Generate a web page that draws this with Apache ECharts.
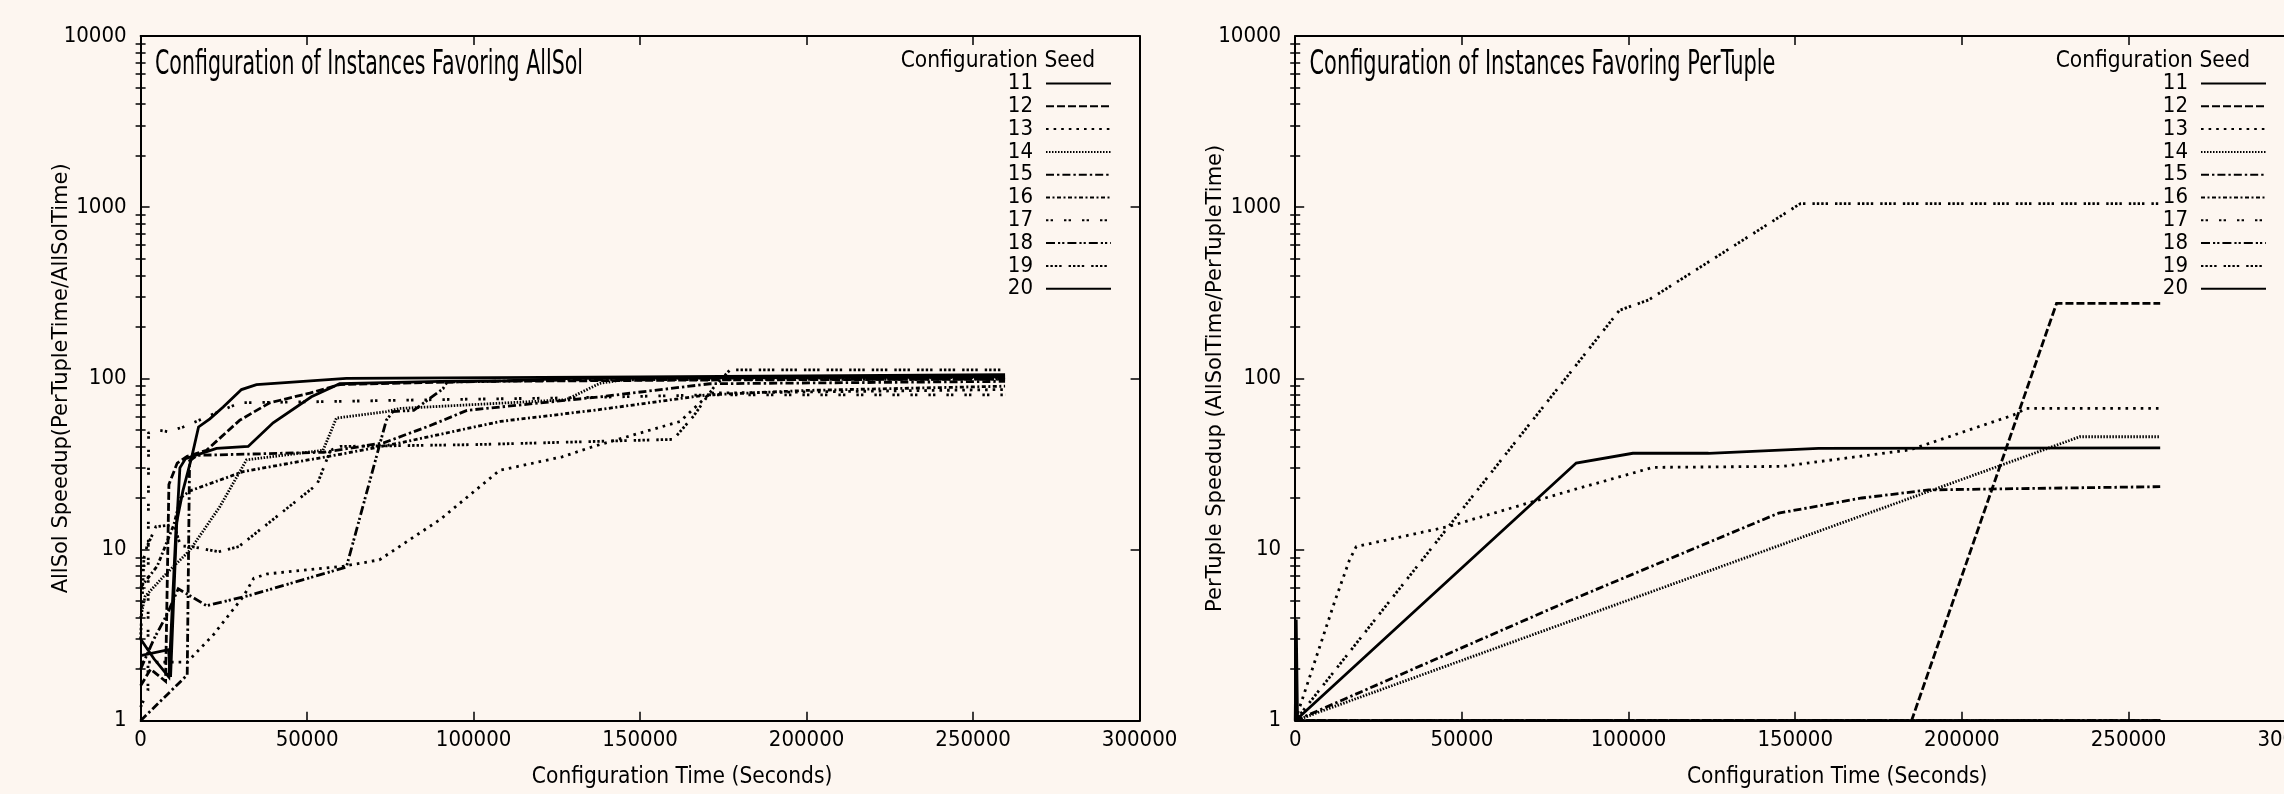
<!DOCTYPE html>
<html>
<head>
<meta charset="utf-8">
<script src="https://cdn.jsdelivr.net/npm/echarts@6/dist/echarts.min.js"></script>
<style>
html, body { margin: 0; padding: 0; background: #fdf6f0; }
#main { width: 2284px; height: 794px; }
</style>
</head>
<body>
<div id="main"></div>
<script>
// seeds shown in both legends
var seeds = ['11', '12', '13', '14', '15', '16', '17', '18', '19', '20'];
var xTicks = [0, 300000, 50000];   // min, max, step

// left panel: AllSol speedup, [configuration seconds, speedup]
var allSol11 = [[0,3],[4000,2.3],[8500,1.8],[10700,14],[12700,22],[15400,35],[17400,52],[20800,58],[24800,68],[30300,86],[34800,92],[61800,100],[150000,102],[259600,105]];
var allSol12 = [[0,1.6],[3000,2],[7500,1.7],[8500,24],[11000,32],[14000,35],[19800,38],[29800,57],[38800,72],[50800,82],[59800,92],[100000,96],[180000,98],[259600,99]];
var allSol13 = [[0,2.2],[14000,2.2],[22000,3.2],[30800,5.3],[34000,6.8],[38000,7.2],[61000,8],[71700,8.7],[90000,15],[107800,29],[126600,34.8],[136000,40],[162000,56],[168000,72],[171000,82],[259600,86]];
var allSol14 = [[0,4],[1300,5.3],[7000,7],[14800,9.9],[23800,17.8],[31800,33.4],[54800,38],[58800,58.6],[73800,63.9],[77800,66.7],[127800,75],[137900,93.5],[147900,100],[259600,101]];
var allSol15 = [[0,1],[10700,1.6],[14000,1.85],[14700,33],[17000,35.5],[55000,37],[73000,42],[87000,53],[98000,65],[138000,78],[171000,93],[259600,96]];
var allSol16 = [[0,6],[5000,8],[10000,14],[12000,20],[14800,22],[30800,28.5],[45000,32],[60000,36],[78000,42],[108000,56],[136000,65],[170000,80],[200000,85],[259600,90]];
var allSol17 = [[0,1.2],[2200,1.5],[2400,48],[5000,50],[8300,48.8],[12800,52],[29800,72],[52800,73],[86800,75],[130000,77],[170000,80],[259600,80]];
var allSol18 = [[0,2],[4000,3],[8000,4.2],[11300,5.9],[19800,4.7],[32800,5.4],[61800,7.9],[73800,57],[75800,64],[82000,65],[90800,87],[92000,95],[130000,98],[259600,99]];
var allSol19 = [[0,3],[1000,9],[1900,10.4],[4600,13.6],[10000,14],[12000,10.5],[15400,10.4],[23400,9.7],[29500,10.4],[53000,24],[57000,38],[60000,40],[100000,41],[160000,44],[166000,60],[172000,88],[177000,112],[259600,112]];
var allSol20 = [[0,2.4],[8400,2.6],[9000,1.8],[10800,13.6],[11800,30],[13500,34],[22800,39],[32300,40],[39800,55],[51300,78],[59800,93],[90000,96],[110000,97],[130000,100],[259600,102]];

// right panel: PerTuple speedup
var perTuple11 = [[0,1],[84300,32],[101300,36.5],[124000,36.5],[157000,39],[259500,39.3]];
var perTuple12 = [[0,1],[184900,1],[228400,274],[259500,274]];
var perTuple13 = [[0,1],[11900,5],[16300,8.7],[18300,10.4],[45800,13.6],[83300,22.3],[107400,30.2],[146200,30.6],[171600,35.5],[184400,38.2],[215400,61],[219400,66.7],[259500,66.7]];
var perTuple14 = [[0,1],[235400,45.6],[259500,45.6]];
var perTuple15 = [[0,1],[82000,5],[145000,16.3],[170000,20],[190000,22.3],[259500,23.3]];
var perTuple16 = [[0,1],[259500,1]];
var perTuple17 = [[0,1],[259500,1]];
var perTuple18 = [[0,1],[259500,1]];
var perTuple19 = [[0,1],[97300,250],[106000,287],[151600,1050],[259500,1050]];
var perTuple20 = [[0,1],[300,3.9],[700,1],[259500,1]];

var allSolData = [allSol11, allSol12, allSol13, allSol14, allSol15, allSol16, allSol17, allSol18, allSol19, allSol20];
var perTupleData = [perTuple11, perTuple12, perTuple13, perTuple14, perTuple15, perTuple16, perTuple17, perTuple18, perTuple19, perTuple20];

// gnuplot-like dash types
var dashTypes = {
    '11': 'solid',
    '12': [8, 3],
    '13': [2.6, 5],
    '14': [1.5, 1.5],
    '15': [8, 3, 2.4, 3],
    '16': [4, 2.5, 2, 2.5],
    '17': [2.4, 2.2, 2.4, 11],
    '18': [9, 3, 2.2, 2, 2.2, 3],
    '19': [2.4, 2, 2.4, 2, 2.4, 2, 2.4, 7],
    '20': 'solid'
};

var cond = '"DejaVu Sans Condensed", "DejaVu Sans", sans-serif';
var plain = '"DejaVu Sans", sans-serif';

// log minor ticks 2..9 per decade, in exponent space
var minorTicks = [];
for (var d = 0; d < 4; d++) {
    for (var k = 2; k < 10; k++) minorTicks.push(d + Math.log10(k));
}

var measureCtx = document.createElement('canvas').getContext('2d');
function squeeze(text, font, width) {
    measureCtx.font = font;
    return width / measureCtx.measureText(text).width;
}

function xAxis(grid, pos, show, name) {
    return {
        type: 'value', gridIndex: grid, position: pos,
        min: xTicks[0], max: xTicks[1], interval: xTicks[2],
        axisLine: { show: true, onZero: false, lineStyle: { color: '#000', width: 2 } },
        axisTick: { show: true, inside: true, length: 9, lineStyle: { color: '#000', width: 1.5 } },
        axisLabel: { show: show, margin: 9, color: '#000', fontFamily: cond, fontSize: 22,
            formatter: function (v) { return String(v); } },
        splitLine: { show: false },
        name: name || '', nameLocation: 'middle', nameGap: 45, nameMoveOverlap: false,
        nameTextStyle: { color: '#000', fontFamily: cond, fontSize: 22.5, padding: [0, 0, 0, 84] }
    };
}

function yLogAxis(grid, pos, show, name) {
    return {
        type: 'log', logBase: 10, gridIndex: grid, position: pos, min: 1, max: 10000,
        axisLine: { show: true, onZero: false, lineStyle: { color: '#000', width: 2 } },
        axisTick: { show: true, inside: true, length: 9, lineStyle: { color: '#000', width: 1.5 } },
        axisLabel: { show: show, margin: 14, color: '#000', fontFamily: cond, fontSize: 22,
            formatter: function (v) { return String(Math.round(v)); } },
        splitLine: { show: false },
        name: name || '', nameLocation: 'middle', nameGap: 69, nameMoveOverlap: false,
        nameTextStyle: { color: '#000', fontFamily: plain, fontSize: 21 }
    };
}

function yMinorAxis(grid, pos) {
    return {
        type: 'value', gridIndex: grid, position: pos, min: 0, max: 4,
        axisLine: { show: false },
        axisTick: { show: true, inside: true, length: 5, customValues: minorTicks,
            lineStyle: { color: '#000', width: 1.5 } },
        axisLabel: { show: false },
        splitLine: { show: false }
    };
}

function makeSeries(name, data, xi, yi) {
    return {
        name: name, type: 'line', data: data,
        xAxisIndex: xi, yAxisIndex: yi,
        symbol: 'none', showSymbol: false, silent: true,
        lineStyle: { color: '#000', width: 2.8, type: dashTypes[name], cap: 'butt', join: 'miter' },
        itemStyle: { color: '#000' },
        emphasis: { disabled: true }
    };
}

function legend(rightPx) {
    return {
        orient: 'vertical', align: 'right', right: rightPx, top: 72.5, padding: 0,
        itemWidth: 65, itemHeight: 20, itemGap: 0.8,
        selectedMode: false,
        itemStyle: { opacity: 0 },
        textStyle: { color: '#000', fontFamily: cond, fontSize: 22, lineHeight: 20, padding: [0, 8, 0, 0] },
        data: seeds
    };
}

var series = [];
seeds.forEach(function (s, i) {
    series.push(makeSeries(s, allSolData[i], 0, 0));
});
seeds.forEach(function (s, i) {
    series.push(makeSeries(s, perTupleData[i], 2, 4));
});

var titleFont = '34px "DejaVu Sans"';
var title1 = 'Configuration of Instances Favoring AllSol';
var title2 = 'Configuration of Instances Favoring PerTuple';

function titleText(x, text, width) {
    return {
        type: 'text', x: x, y: 65, scaleX: squeeze(text, titleFont, width), silent: true,
        style: { text: text, font: titleFont, fill: '#000', verticalAlign: 'middle', align: 'left' }
    };
}
function headerText(x) {
    return {
        type: 'text', x: x, y: 61, silent: true,
        style: { text: 'Configuration Seed', fontFamily: cond, fontSize: 22.5, fill: '#000',
            verticalAlign: 'middle', align: 'right' }
    };
}

var myChart = echarts.init(document.getElementById('main'), null, { renderer: 'canvas' });

var option = {
    backgroundColor: '#fdf6f0',
    animation: false,
    grid: [
        { left: 140.6, top: 36, width: 999, height: 684.7, outerBoundsMode: 'none' },
        { left: 1295.2, top: 36, width: 1000, height: 684.7, outerBoundsMode: 'none' }
    ],
    xAxis: [
        xAxis(0, 'bottom', true, 'Configuration Time (Seconds)'),
        xAxis(0, 'top', false),
        xAxis(1, 'bottom', true, 'Configuration Time (Seconds)'),
        xAxis(1, 'top', false)
    ],
    yAxis: [
        yLogAxis(0, 'left', true, 'AllSol Speedup(PerTupleTime/AllSolTime)'),
        yLogAxis(0, 'right', false),
        yMinorAxis(0, 'left'),
        yMinorAxis(0, 'right'),
        yLogAxis(1, 'left', true, 'PerTuple Speedup (AllSolTime/PerTupleTime)'),
        yLogAxis(1, 'right', false),
        yMinorAxis(1, 'left'),
        yMinorAxis(1, 'right')
    ],
    legend: [legend(1172), legend(17)],
    graphic: [
        titleText(155, title1, 428),
        titleText(1309.5, title2, 466),
        headerText(1095),
        headerText(2250)
    ],
    series: series
};

myChart.setOption(option);
</script>
</body>
</html>
